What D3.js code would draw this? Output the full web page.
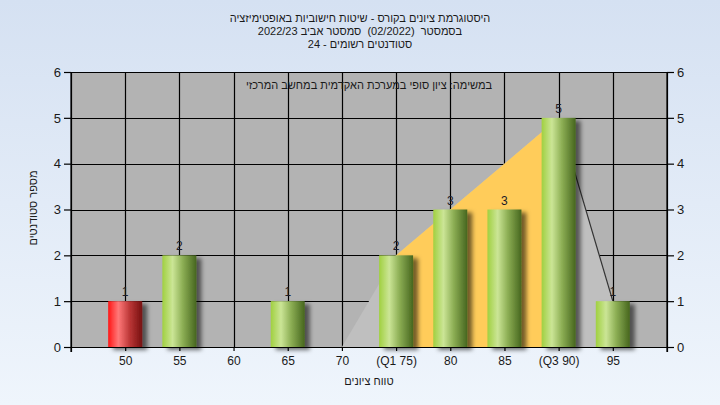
<!DOCTYPE html>
<html><head><meta charset="utf-8">
<script src="https://cdn.jsdelivr.net/npm/d3@7"></script>
<style>
html,body{margin:0;padding:0;}
svg{display:block;}
text{font-family:"Liberation Sans",Arial,sans-serif;white-space:pre;}
</style></head>
<body>
<script>
const categories = ["50","55","60","65","70","(Q1 75)","80","85","(Q3 90)","95"];
const counts = [1,2,0,1,0,2,3,3,5,1];
const failing = [true,false,false,false,false,false,false,false,false,false];
const yTicks = [0,1,2,3,4,5,6];
const curveCats = ["70","(Q1 75)","(Q3 90)","95"];
const curveVals = [0,2,5,1];
const iqrCats = ["(Q1 75)","(Q3 90)"];
const iqrVals = [2,5];
const titleLines = ["היסטוגרמת ציונים בקורס - שיטות חישוביות באופטימיזציה","בסמסטר  (02/2022)  סמסטר אביב 2022/23","סטודנטים רשומים - 24"];
const subTitle = "במשימה: ציון סופי במערכת האקדמית במחשב המרכזי";
const yLabel = "מספר סטודנטים";
const xLabel = "טווח ציונים";

const W=720,H=405;
const m={l:71,r:667,t:72,b:347};
const svg=d3.select("body").append("svg").attr("width",W).attr("height",H);
const defs=svg.append("defs");
const bg=defs.append("linearGradient").attr("id","bg").attr("x1",0).attr("y1",0).attr("x2",0).attr("y2",1);
bg.append("stop").attr("offset","0%").attr("stop-color","#d5e1f2");
bg.append("stop").attr("offset","100%").attr("stop-color","#eff5fc");
const gG=defs.append("linearGradient").attr("id","gGreen");
[["0%","#a0d040"],["30%","#cbe596"],["60%","#8cae54"],["100%","#46661e"]].forEach(s=>gG.append("stop").attr("offset",s[0]).attr("stop-color",s[1]));
const gR=defs.append("linearGradient").attr("id","gRed");
[["0%","#ff1616"],["30%","#ff7878"],["65%","#b83434"],["100%","#761010"]].forEach(s=>gR.append("stop").attr("offset",s[0]).attr("stop-color",s[1]));
const f=defs.append("filter").attr("id","sh").attr("x","-20%").attr("y","-20%").attr("width","160%").attr("height","140%");
f.append("feDropShadow").attr("dx",5).attr("dy",3).attr("stdDeviation",2).attr("flood-color","#000").attr("flood-opacity",0.55);

svg.append("rect").attr("width",W).attr("height",H).attr("fill","url(#bg)");

const x=d3.scalePoint().domain(categories).range([m.l,m.r]).padding(1);
const y=d3.scaleLinear().domain([0,6]).range([m.b,m.t]);

svg.append("rect").attr("x",m.l).attr("y",m.t).attr("width",m.r-m.l).attr("height",m.b-m.t).attr("fill","#b3b3b3");

// gridlines
const grid=svg.append("g").attr("stroke","#000").attr("stroke-width",1.2);
grid.selectAll("line.h").data(yTicks).join("line").attr("x1",m.l).attr("x2",m.r).attr("y1",d=>Math.round(y(d))+0.5).attr("y2",d=>Math.round(y(d))+0.5);
grid.selectAll("line.v").data(categories).join("line").attr("y1",m.t).attr("y2",m.b).attr("x1",d=>Math.round(x(d))+0.5).attr("x2",d=>Math.round(x(d))+0.5);

// distribution area
const area=d3.area().x((d,i)=>x(d[0])).y0(y(0)).y1(d=>y(d[1]));
svg.append("path").datum(curveCats.map((c,i)=>[c,curveVals[i]])).attr("d",area).attr("fill","#bfbfbf");
svg.append("path").datum(iqrCats.map((c,i)=>[c,iqrVals[i]])).attr("d",area).attr("fill","#ffcc5a");
const ln=d3.line().x(d=>x(d[0])).y(d=>y(d[1]));
svg.append("path").datum(curveCats.slice(2).map((c,i)=>[c,curveVals[i+2]])).attr("d",ln).attr("fill","none").attr("stroke","#333").attr("stroke-width",1.2);

// bars
const bw=34;
const data=categories.map((c,i)=>({c,v:counts[i],fail:failing[i]})).filter(d=>d.v>0);
svg.append("g").selectAll("rect").data(data).join("rect")
 .attr("x",d=>x(d.c)-bw/2).attr("width",bw)
 .attr("y",d=>y(d.v)).attr("height",d=>y(0)-y(d.v))
 .attr("fill",d=>d.fail?"url(#gRed)":"url(#gGreen)").attr("filter","url(#sh)");
svg.append("g").selectAll("text").data(data).join("text")
 .attr("x",d=>x(d.c)).attr("y",d=>y(d.v)-5).attr("text-anchor","middle")
 .attr("font-size",12).attr("fill","#1c1c28").text(d=>d.v);

// axes
const axStyle=g=>{g.selectAll("path,line").attr("stroke","#000").attr("stroke-width",1.2);g.selectAll("text").attr("font-size",13).attr("fill","#1a1a1a").attr("font-family","Liberation Sans, Arial, sans-serif");};
svg.append("g").attr("transform",`translate(${m.l},0)`).call(d3.axisLeft(y).tickValues(yTicks).tickFormat(d3.format("d")).tickSize(7).tickSizeOuter(0).tickPadding(3)).call(axStyle);
svg.append("g").attr("transform",`translate(${m.r},0)`).call(d3.axisRight(y).tickValues(yTicks).tickFormat(d3.format("d")).tickSize(7).tickSizeOuter(0).tickPadding(3)).call(axStyle);
const xa=svg.append("g").attr("transform",`translate(0,${m.b})`).call(d3.axisBottom(x).tickSize(4).tickSizeOuter(5).tickPadding(5)).call(axStyle);
xa.selectAll("text").attr("font-size",12);
svg.append("line").attr("x1",m.l).attr("x2",m.l).attr("y1",m.t).attr("y2",m.b+5).attr("stroke","#000").attr("stroke-width",1.2);
svg.append("line").attr("x1",m.r).attr("x2",m.r).attr("y1",m.t).attr("y2",m.b+5).attr("stroke","#000").attr("stroke-width",1.2);

// titles
svg.append("g").selectAll("text").data(titleLines).join("text")
 .attr("x",360).attr("y",(d,i)=>22+i*13).attr("text-anchor","middle").attr("direction","rtl")
 .attr("font-size",11).attr("fill","#1a1a1a").text(d=>d);
svg.append("text").attr("x",369).attr("y",89).attr("text-anchor","middle").attr("font-size",11).attr("fill","#1a1a1a").text(subTitle);
svg.append("text").attr("transform","translate(37,208) rotate(-90)").attr("text-anchor","middle").attr("font-size",11).attr("fill","#1a1a1a").text(yLabel);
svg.append("text").attr("x",369).attr("y",385).attr("text-anchor","middle").attr("font-size",11).attr("fill","#1a1a1a").text(xLabel);
</script>
</body></html>
